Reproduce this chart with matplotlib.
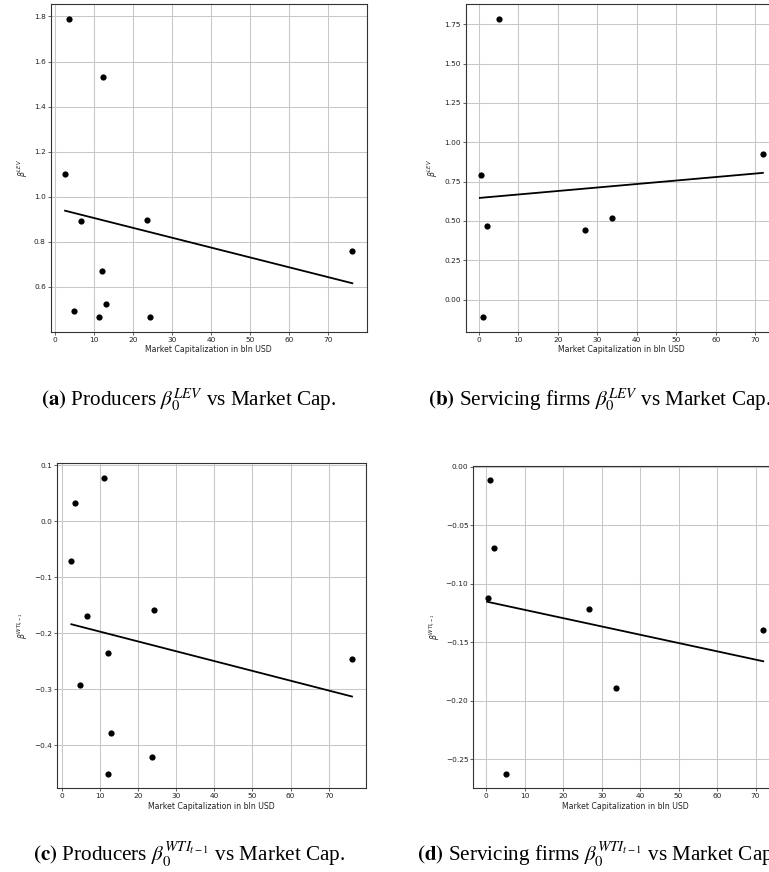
import matplotlib
matplotlib.use("Agg")
import matplotlib.pyplot as plt

# ---------------- data ----------------
# (a) Producers beta^LEV vs market cap
prod_cap_lev = [2.7, 3.5, 4.9, 6.7, 11.2, 12.1, 12.2, 13.2, 23.7, 24.3, 76.2]
prod_beta_lev = [1.101, 1.788, 0.495, 0.892, 0.467, 0.671, 1.533, 0.526, 0.898, 0.467, 0.761]
prod_fit_lev_x = [2.6, 76.2]
prod_fit_lev_y = [0.938, 0.616]

# (b) Servicing firms beta^LEV vs market cap
serv_cap_lev = [0.6, 1.1, 2.0, 5.2, 26.8, 33.7, 71.9]
serv_beta_lev = [0.794, -0.110, 0.469, 1.782, 0.444, 0.518, 0.928]
serv_fit_lev_x = [0.3, 71.9]
serv_fit_lev_y = [0.646, 0.805]

# (c) Producers beta^WTI_{t-1} vs market cap
prod_cap_wti = [2.5, 3.4, 4.9, 6.5, 11.0, 12.0, 12.1, 13.0, 23.6, 24.1, 76.1]
prod_beta_wti = [-0.0705, 0.032, -0.292, -0.169, 0.077, -0.4505, -0.236, -0.379, -0.421, -0.158, -0.2465]
prod_fit_wti_x = [2.5, 76.1]
prod_fit_wti_y = [-0.184, -0.313]

# (d) Servicing firms beta^WTI_{t-1} vs market cap
serv_cap_wti = [0.4, 0.9, 1.9, 5.1, 26.7, 33.8, 72.0]
serv_beta_wti = [-0.112, -0.0117, -0.0697, -0.2625, -0.122, -0.189, -0.140]
serv_fit_wti_x = [0.2, 72.0]
serv_fit_wti_y = [-0.1155, -0.1664]

xlabel = "Market Capitalization in bln USD"
ylabel_lev = r"$\beta^{LEV}$"
ylabel_wti = r"$\beta^{WTI_{t-1}}$"
captions = [
    r"$\mathbf{(a)}$ Producers $\beta_0^{LEV}$ vs Market Cap.",
    r"$\mathbf{(b)}$ Servicing firms $\beta_0^{LEV}$ vs Market Cap.",
    r"$\mathbf{(c)}$ Producers $\beta_0^{WTI_{t-1}}$ vs Market Cap.",
    r"$\mathbf{(d)}$ Servicing firms $\beta_0^{WTI_{t-1}}$ vs Market Cap.",
]

# ---------------- figure ----------------
W, H = 769, 872
fig = plt.figure(figsize=(W / 100, H / 100), dpi=100)


def px_axes(left, right, top, bottom):
    return fig.add_axes([left / W, 1 - bottom / H, (right - left) / W, (bottom - top) / H])


panels = [
    (px_axes(50.7, 366.7, 4.3, 331.7), prod_cap_lev, prod_beta_lev, prod_fit_lev_x, prod_fit_lev_y, ylabel_lev),
    (px_axes(465.7, 777.0, 4.3, 331.7), serv_cap_lev, serv_beta_lev, serv_fit_lev_x, serv_fit_lev_y, ylabel_lev),
    (px_axes(57.3, 366.0, 463.3, 788.3), prod_cap_wti, prod_beta_wti, prod_fit_wti_x, prod_fit_wti_y, ylabel_wti),
    (px_axes(473.3, 777.0, 465.7, 788.3), serv_cap_wti, serv_beta_wti, serv_fit_wti_x, serv_fit_wti_y, ylabel_wti),
]

for ax, xs, ys, fx, fy, ylab in panels:
    ax.scatter(xs, ys, s=20, color="black", zorder=3, linewidths=0)
    ax.plot(fx, fy, color="black", lw=1.3, zorder=2)
    ax.grid(True, color="#c8c8c8", lw=0.75)
    ax.set_axisbelow(True)
    ax.set_xlabel(xlabel, fontsize=5.6, labelpad=2, color="#222222")
    ax.set_ylabel(ylab, fontsize=5.6, labelpad=3, color="#222222")
    ax.tick_params(labelsize=5.3, length=2, width=0.5, pad=1.5, colors="#222222")
    for sp in ax.spines.values():
        sp.set_linewidth(0.8)
        sp.set_color("#333333")

cap_pos = [(189, 406), (599, 406), (189, 862), (597, 862)]
for (cx, cy), txt in zip(cap_pos, captions):
    fig.text(cx / W, 1 - cy / H, txt, ha="center", va="baseline",
             fontsize=15.2, family="Liberation Serif", math_fontfamily="stix")

fig.savefig("out.png", dpi=100)
